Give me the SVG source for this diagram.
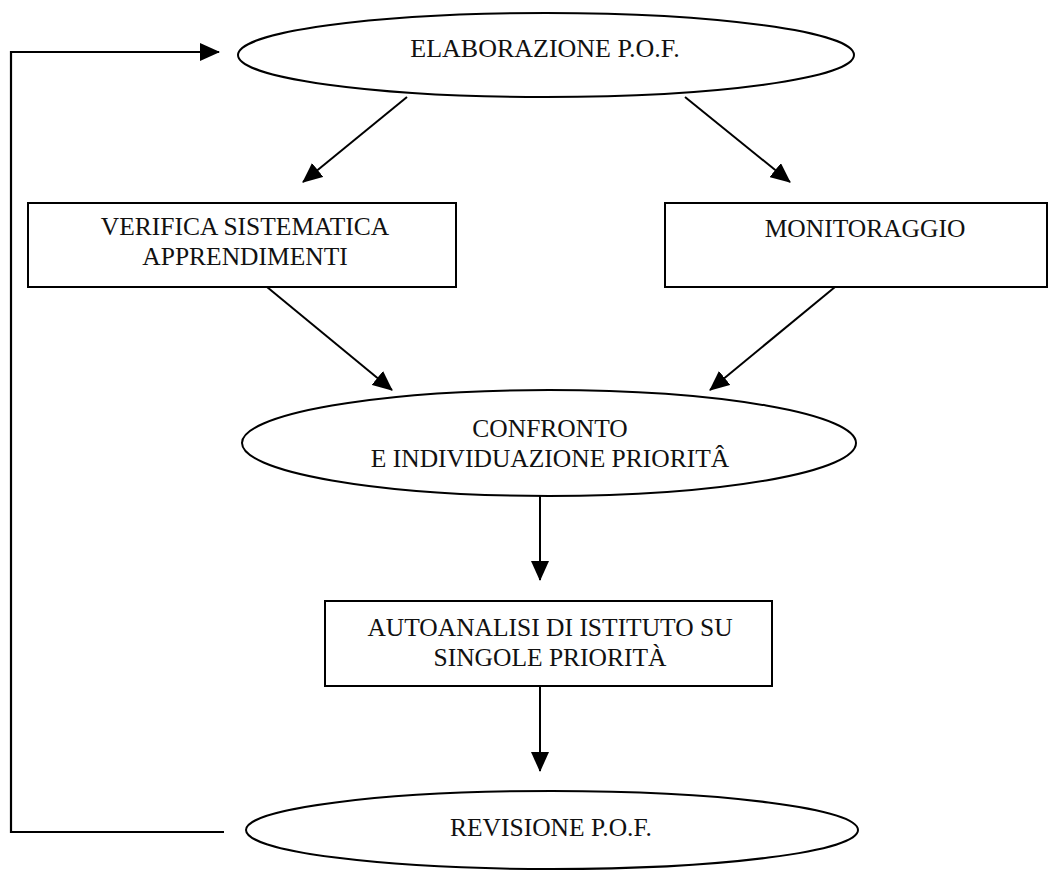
<svg xmlns="http://www.w3.org/2000/svg" width="1055" height="870" viewBox="0 0 1055 870">
<defs>
<marker id="ah" markerWidth="20" markerHeight="18" refX="19" refY="9" orient="auto" markerUnits="userSpaceOnUse" viewBox="0 0 20 18">
<path d="M0,0 L20,9 L0,18 z" fill="#000"/>
</marker>
<style>
.shape{fill:#fff;stroke:#000;stroke-width:2}
.t{font-family:"Liberation Serif","Times New Roman",serif;font-size:25.5px;fill:#111;text-anchor:middle}
.c{fill:none;stroke:#000;stroke-width:2;marker-end:url(#ah)}
.f{fill:none;stroke:#000;stroke-width:2.2}
</style>
</defs>
<rect width="1055" height="870" fill="#fff"/>
<g id="connectors">
<path class="f" d="M224,832 H11 V52 H200"/>
<line class="c" x1="198" y1="52" x2="219" y2="52"/>
<line class="c" x1="407" y1="97" x2="303" y2="182"/>
<line class="c" x1="685" y1="97" x2="790" y2="182"/>
<line class="c" x1="267" y1="287" x2="392" y2="390"/>
<line class="c" x1="835" y1="287" x2="710" y2="390"/>
<line class="c" x1="540" y1="496" x2="540" y2="580"/>
<line class="c" x1="540" y1="686" x2="540" y2="771"/>
</g>
<g id="elaborazione">
<ellipse class="shape" cx="546" cy="55" rx="308" ry="42"/>
<text class="t" x="545" y="57" style="font-size:26px">ELABORAZIONE P.O.F.</text>
</g>
<g id="verifica">
<rect class="shape" x="28" y="203" width="428" height="84"/>
<text class="t" x="245" y="235">VERIFICA SISTEMATICA</text>
<text class="t" x="245" y="265">APPRENDIMENTI</text>
</g>
<g id="monitoraggio">
<rect class="shape" x="665" y="203" width="382" height="84"/>
<text class="t" x="865" y="237">MONITORAGGIO</text>
</g>
<g id="confronto">
<ellipse class="shape" cx="549" cy="443" rx="307" ry="53"/>
<text class="t" x="550" y="437">CONFRONTO</text>
<text class="t" x="550" y="467">E INDIVIDUAZIONE PRIORITÂ</text>
</g>
<g id="autoanalisi">
<rect class="shape" x="325" y="601" width="447" height="85"/>
<text class="t" x="550" y="636">AUTOANALISI DI ISTITUTO SU</text>
<text class="t" x="550" y="666">SINGOLE PRIORITÀ</text>
</g>
<g id="revisione">
<ellipse class="shape" cx="552" cy="830" rx="306" ry="39"/>
<text class="t" x="551" y="836">REVISIONE P.O.F.</text>
</g>
</svg>
